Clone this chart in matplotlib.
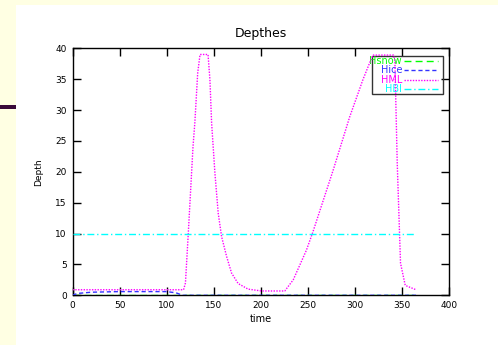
import matplotlib
matplotlib.use('Agg')
import matplotlib.pyplot as plt
from matplotlib.patches import Rectangle

# values
hml_t = [0, 60, 118, 120, 123, 128, 130, 133, 135.5, 144, 146, 147.8, 151.3, 154.8, 158.4,
         163.7, 169, 176, 186.6, 200.8, 225.5, 234.5, 248.5, 255.5, 277, 294.5, 308.5, 319,
         341, 342.5, 345, 348.5, 353.5, 365]
hml_v = [0.9, 0.9, 0.9, 2.0, 10.0, 24.0, 28.0, 36.0, 39.0, 39.0, 34.9, 27.9, 19.8, 13.3, 9.5,
         6.3, 3.6, 1.9, 1.0, 0.7, 0.7, 2.5, 7.3, 10.3, 20.3, 28.9, 34.9, 38.9,
         38.9, 38.0, 21.4, 5.2, 1.6, 0.9]
hice_t = [0, 5, 20, 50, 100, 110, 117, 365]
hice_v = [0.0, 0.3, 0.5, 0.6, 0.6, 0.4, 0.0, 0.0]
hsnow_t = [0, 365]
hsnow_v = [0.0, 0.0]
hbl_t = [0, 365]
hbl_v = [10.0, 10.0]

fig = plt.figure(figsize=(4.98, 3.45), dpi=100, facecolor='#FFFFE3')
# white slide panel and the little purple bar on the left
fig.patches.append(Rectangle((16 / 498, 0), 1, 1 - 5 / 345, transform=fig.transFigure,
                             facecolor='white', edgecolor='none', zorder=-10))
fig.patches.append(Rectangle((0, 1 - 109 / 345), 16 / 498, 4 / 345, transform=fig.transFigure,
                             facecolor='#3A0A3A', edgecolor='none', zorder=-9))

ax = fig.add_axes([72.5 / 498, 49.7 / 345, 376.5 / 498, 247 / 345])
ax.set_facecolor('none')

series = [
    ('Hsnow', hsnow_t, hsnow_v, '#00FF00', (0, (5, 3))),
    ('Hice', hice_t, hice_v, '#3333FF', (0, (3, 2))),
    ('HML', hml_t, hml_v, '#FF00FF', (0, (1, 1))),
    ('HBl', hbl_t, hbl_v, '#00FFFF', (0, (5, 2, 1, 2))),
]
for name, t, v, c, ls in series:
    ax.plot(t, v, color=c, lw=1, ls=ls, zorder=3)

ax.set_xlim(0, 400)
ax.set_ylim(0, 40)
ax.set_xticks(range(0, 401, 50))
ax.set_yticks(range(0, 41, 5))
ax.tick_params(direction='in', length=5.5, width=1, top=True, right=True,
               labelsize=6.5, colors='black', pad=4)
for s in ax.spines.values():
    s.set_linewidth(1)

ax.set_title('Depthes', fontsize=9, pad=8)
ax.set_xlabel('time', fontsize=7, labelpad=3)
ax.set_ylabel('Depth', fontsize=6.5, labelpad=9)

# gnuplot style key: right aligned coloured text, sample line on the right,
# no fill so the curves show through
def px(x, y):
    return (x - 72.5) / 376.5, (295.3 - y) / 247

x0, y0 = px(371.7, 94.3)
x1, y1 = px(443.3, 55.7)
ax.add_patch(Rectangle((x0, y0), x1 - x0, y1 - y0, transform=ax.transAxes,
                       facecolor='none', edgecolor='#333333', lw=1, zorder=2))
for i, (name, t, v, c, ls) in enumerate(series):
    ry = 61 + i * 9.4
    tx, ty = px(402, ry)
    ax.text(tx, ty, name, transform=ax.transAxes, ha='right', va='center',
            fontsize=7, color=c, zorder=2)
    lx0, ly = px(404, ry)
    lx1, _ = px(438, ry)
    ax.plot([lx0, lx1], [ly, ly], transform=ax.transAxes, color=c, lw=1, ls=ls,
            zorder=2, clip_on=False)

fig.savefig('out.png', dpi=100, facecolor=fig.get_facecolor())
